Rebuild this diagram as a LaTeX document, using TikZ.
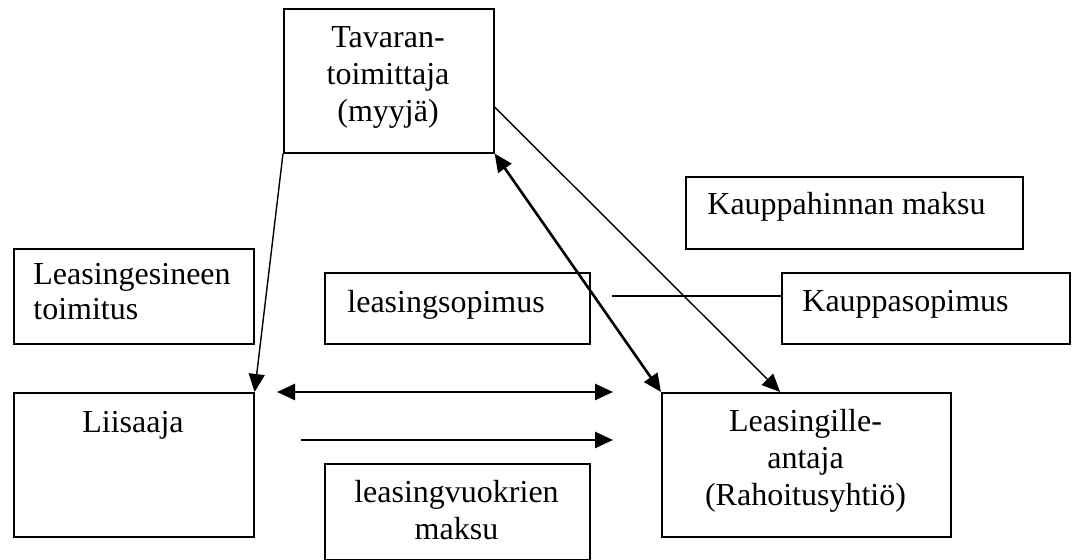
\documentclass[tikz,border=0pt]{standalone}
\usepackage{fontspec}
\setmainfont{Liberation Serif}
\usetikzlibrary{arrows.meta,calc}
\begin{document}
\begin{tikzpicture}[x=0.5pt,y=-0.5pt,
  box/.style={draw, line width=0.8pt, inner sep=0pt, anchor=north west},
  txt/.style={inner sep=0pt, font=\fontsize{16pt}{18.5pt}\selectfont},
  thinline/.style={line width=0.7pt},
  thickline/.style={line width=1.3pt},
  tipend/.style={-{Triangle[length=9pt,width=8pt]}},
  tipboth/.style={{Triangle[length=9pt,width=8pt]}-{Triangle[length=9pt,width=8pt]}}]
\useasboundingbox (0,0) rectangle (1077,560);
% boxes
\node[box, minimum width=105pt, minimum height=72pt] (sup) at (283,8) {};
\node[box, minimum width=120pt, minimum height=47.5pt] (les) at (13,248) {};
\node[box, minimum width=120pt, minimum height=72pt] (lii) at (13,392) {};
\node[box, minimum width=132.5pt, minimum height=35.5pt] (lso) at (324,272) {};
\node[box, minimum width=132.5pt, minimum height=48pt] (lvm) at (324,463) {};
\node[box, minimum width=144.5pt, minimum height=72pt] (lg) at (661,392) {};
\node[box, minimum width=168.5pt, minimum height=36pt] (khm) at (685,176) {};
\node[box, minimum width=144pt, minimum height=35.5pt] (ks) at (781,272) {};
% texts
\node[txt, anchor=base, text width=100pt, align=center] (supt) at (388,48) {Tavaran-\\toimittaja\\(myyjä)};
\node[txt, anchor=base west, text width=115pt, align=left, font=\fontsize{16pt}{17.5pt}\selectfont] (lest) at (33,285) {Leasingesineen\\toimitus};
\node[txt, anchor=base] (liit) at (133,433) {Liisaaja};
\node[txt, anchor=base west] (lsot) at (347,313) {leasingsopimus};
\node[txt, anchor=base, text width=130pt, align=center] (lvmt) at (456.5,503) {leasingvuokrien\\maksu};
\node[txt, anchor=base, text width=140pt, align=center] (lgt) at (805.5,432) {Leasingille-\\antaja\\(Rahoitusyhtiö)};
\node[txt, anchor=base west] (khmt) at (707,215) {Kauppahinnan maksu};
\node[txt, anchor=base west] (kst) at (802,312) {Kauppasopimus};
% connectors
\draw[thinline, tipend] (sup.south west) -- (lii.north east);
\draw[thickline, tipboth] (sup.south east) -- (lg.north west);
\draw[thinline, tipend] ($(sup.south east)!0.32!(sup.north east)$) -- ($(lg.north west)!0.41!(lg.north east)$);
\coordinate (d1) at (277,392);
\coordinate (d2) at (613,392);
\draw[thickline, tipboth] (d1) -- (d2);
\coordinate (p1) at (301,440);
\coordinate (p2) at (613,440);
\draw[thickline, tipend] (p1) -- (p2);
\coordinate (k1) at (612,296);
\draw[thinline] (k1) -- (k1 -| ks.west);
\end{tikzpicture}
\end{document}
